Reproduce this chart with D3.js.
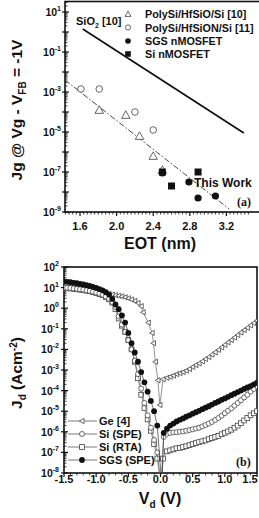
<!DOCTYPE html>
<html><head><meta charset="utf-8">
<script src="https://cdn.jsdelivr.net/npm/d3@7"></script>
<style>
body{margin:0;background:#fff}
svg{display:block}
text{font-family:"Liberation Sans",Arial,sans-serif;font-weight:bold;fill:#111}
</style>
</head><body>
<svg id="c" width="259" height="518"></svg>
<script>
// ---------- panel (a) data: EOT (nm) and log10(Jg) ----------
const eotHfSiO = [1.81, 2.10, 2.25, 2.40, 2.50];
const logHfSiO = [-3.9, -4.15, -5.2, -6.2, -6.9];
const eotHfSiON = [1.61, 1.81, 2.20, 2.40];
const logHfSiON = [-2.85, -2.85, -4.0, -4.9];
const eotSGS = [2.50, 2.79, 2.89, 3.08];
const logSGS = [-7.05, -7.5, -8.3, -8.2];
const eotSiN = [2.50, 2.60, 2.89];
const logSiN = [-7.0, -7.7, -7.0];
const eotSiO2 = [1.63, 3.39];
const logSiO2 = [0.15, -5.05];
const eotFit = [1.436, 3.23];
const logFit = [-2.4, -8.85];
const xTicksA = [1.6, 2.0, 2.4, 2.8, 3.2];
const yTicksA = [1, -1, -3, -5, -7, -9];

// ---------- panel (b) data: Vd (V) and log10(Jd) ----------
const vGe = [-1.5,-1.45,-1.4,-1.35,-1.3,-1.25,-1.2,-1.15,-1.1,-1.05,-1.0,-0.95,-0.9,-0.85,-0.8,-0.75,-0.7,-0.65,-0.6,-0.55,-0.5,-0.45,-0.4,-0.35,-0.3,-0.27,-0.19,-0.13,-0.11,-0.08,-0.04,-0.01,0.04,0.1,0.15,0.2,0.25,0.3,0.35,0.4,0.45,0.5,0.55,0.6,0.65,0.7,0.75,0.8,0.85,0.9,0.95,1.0,1.05,1.1,1.15,1.2,1.25,1.3,1.35,1.4,1.45,1.5];
const logGe = [1.0,0.98,0.96,0.94,0.92,0.9,0.88,0.86,0.84,0.82,0.8,0.77,0.75,0.72,0.69,0.66,0.63,0.6,0.57,0.53,0.48,0.42,0.35,0.25,0.1,-0.2,-0.7,-1.2,-1.7,-2.6,-3.5,-4.7,-3.45,-3.38,-3.33,-3.27,-3.2,-3.15,-3.1,-3.03,-2.95,-2.85,-2.76,-2.68,-2.58,-2.47,-2.37,-2.25,-2.14,-2.02,-1.9,-1.78,-1.66,-1.54,-1.42,-1.3,-1.18,-1.06,-0.95,-0.83,-0.72,-0.6];

const vSiSPE = [-1.5,-1.45,-1.4,-1.35,-1.3,-1.25,-1.2,-1.15,-1.1,-1.05,-1.0,-0.95,-0.9,-0.85,-0.8,-0.75,-0.7,-0.65,-0.6,-0.55,-0.5,-0.45,-0.4,-0.35,-0.3,-0.25,-0.2,-0.15,-0.1,-0.05,0.01,0.05,0.1,0.15,0.2,0.25,0.3,0.35,0.4,0.45,0.5,0.55,0.6,0.65,0.7,0.75,0.8,0.85,0.9,0.95,1.0,1.05,1.1,1.15,1.2,1.25,1.3,1.35,1.4,1.45,1.5];
const logSiSPE = [1.0,0.99,0.98,0.96,0.94,0.92,0.9,0.87,0.84,0.8,0.76,0.71,0.65,0.56,0.45,0.3,0.05,-0.4,-0.8,-1.15,-1.55,-2.0,-2.55,-3.2,-3.9,-4.6,-5.2,-5.8,-6.4,-7.0,-8.6,-6.25,-6.1,-6.05,-6.03,-6.02,-6.0,-5.98,-5.95,-5.92,-5.88,-5.84,-5.8,-5.74,-5.67,-5.6,-5.52,-5.43,-5.33,-5.22,-5.1,-4.98,-4.86,-4.73,-4.6,-4.47,-4.33,-4.2,-4.05,-3.92,-3.8];

const vSiRTA = [-1.5,-1.45,-1.4,-1.35,-1.3,-1.25,-1.2,-1.15,-1.1,-1.05,-1.0,-0.95,-0.9,-0.85,-0.8,-0.75,-0.7,-0.65,-0.6,-0.55,-0.5,-0.45,-0.4,-0.35,-0.3,-0.25,-0.2,-0.15,-0.1,-0.05,0.01,0.04,0.1,0.15,0.2,0.25,0.3,0.35,0.4,0.45,0.5,0.55,0.6,0.65,0.7,0.75,0.8,0.85,0.9,0.95,1.0,1.05,1.1,1.15,1.2,1.25,1.3,1.35,1.4,1.45,1.5];
const logSiRTA = [0.98,0.97,0.96,0.94,0.92,0.9,0.88,0.85,0.82,0.78,0.74,0.69,0.63,0.54,0.43,0.27,-0.05,-0.5,-0.85,-1.15,-1.55,-2.0,-2.6,-3.4,-4.2,-4.85,-5.4,-5.95,-6.6,-7.3,-8.6,-7.3,-6.95,-6.9,-6.85,-6.8,-6.78,-6.74,-6.7,-6.65,-6.6,-6.55,-6.5,-6.46,-6.42,-6.36,-6.3,-6.25,-6.2,-6.12,-6.05,-5.98,-5.9,-5.8,-5.7,-5.58,-5.45,-5.33,-5.2,-5.1,-5.0];

const vSGSb = [-1.5,-1.45,-1.4,-1.35,-1.3,-1.25,-1.2,-1.15,-1.1,-1.05,-1.0,-0.95,-0.9,-0.85,-0.8,-0.75,-0.7,-0.65,-0.6,-0.55,-0.5,-0.45,-0.4,-0.35,-0.3,-0.25,-0.2,-0.15,-0.1,-0.05,0.02,0.05,0.1,0.15,0.2,0.25,0.3,0.35,0.4,0.45,0.5,0.55,0.6,0.65,0.7,0.75,0.8,0.85,0.9,0.95,1.0,1.05,1.1,1.15,1.2,1.25,1.3,1.35,1.4,1.45,1.5];
const logSGSb = [1.3,1.28,1.26,1.23,1.21,1.18,1.15,1.12,1.08,1.04,0.99,0.93,0.87,0.78,0.66,0.45,0.18,-0.05,-0.35,-0.7,-1.2,-1.7,-2.15,-2.6,-3.1,-3.6,-4.05,-4.5,-5.0,-5.7,-8.6,-6.05,-5.85,-5.7,-5.6,-5.5,-5.42,-5.35,-5.27,-5.2,-5.12,-5.05,-4.98,-4.9,-4.83,-4.76,-4.68,-4.6,-4.53,-4.45,-4.38,-4.3,-4.22,-4.15,-4.07,-4.0,-3.92,-3.85,-3.78,-3.7,-3.62];

const xTicksB = [-1.5, -1.0, -0.5, 0.0, 0.5, 1.0, 1.5];
const yTicksB = [2, 1, 0, -1, -2, -3, -4, -5, -6, -7, -8];
const legendB = ["Ge [4]", "Si (SPE)", "Si (RTA)", "SGS (SPE)"];
const legendA = ["PolySi/HfSiO/Si [10]", "PolySi/HfSiON/Si [11]", "SGS nMOSFET", "Si nMOSFET"];

const svg = d3.select("#c");
const P = v => Math.pow(10, v);
const zip = (a, b) => a.map((d, i) => [d, b[i]]);

function triLeft(s){ return `M${-s},0L${s*0.8},${-s}L${s*0.8},${s}Z`; }
function triUp(s){ return `M0,${-s}L${s},${s*0.8}L${-s},${s*0.8}Z`; }

function expLabel(g, x, y, exp){
  const t = g.append("text").attr("x", x).attr("y", y).attr("text-anchor", "end").style("font-size", "10.5px");
  t.append("tspan").text("10");
  t.append("tspan").attr("dy", -5).style("font-size", "7px").text(exp);
}

// ================= PANEL (a) =================
const xA = d3.scaleLinear().domain([1.436, 3.534]).range([65, 257]);
const yA = d3.scaleLog().domain([1e-9, P(1.525)]).range([212, 1.5]);
const gA = svg.append("g");
svg.append("clipPath").attr("id", "clipA").append("rect")
  .attr("x", 65).attr("y", 1.5).attr("width", 195).attr("height", 210.5);

for (let e = -9; e <= 1; e++) {
  for (let m = 1; m <= 9; m++) {
    const v = m * P(e);
    if (v > P(1.525)) continue;
    const y = yA(v);
    const major = m === 1;
    gA.append("line").attr("x1", 65 - (major ? 3 : 0)).attr("x2", 65 + (major ? 4 : 2.5))
      .attr("y1", y).attr("y2", y).attr("stroke", "#111").attr("stroke-width", major ? 1.2 : 0.8);
  }
}
for (let i = 0; i <= 50; i++) {
  const v = 1.44 + i * 0.04;
  if (v > 3.53) break;
  const x = xA(v);
  const major = Math.abs(((v - 1.6) / 0.4) - Math.round((v - 1.6) / 0.4)) < 1e-6;
  gA.append("line").attr("x1", x).attr("x2", x).attr("y1", 212).attr("y2", 212 + (major ? 4 : 2.5))
    .attr("stroke", "#111").attr("stroke-width", major ? 1.2 : 0.8);
}
gA.append("rect").attr("x", 65).attr("y", 1.5).attr("width", 197).attr("height", 210.5)
  .attr("fill", "none").attr("stroke", "#111").attr("stroke-width", 1.6);

xTicksA.forEach(v => gA.append("text").attr("x", xA(v)).attr("y", 230).attr("text-anchor", "middle")
  .style("font-size", "11px").text(v.toFixed(1)));
yTicksA.forEach(e => expLabel(gA, 61, yA(P(e)) + 4, String(e)));

const plotA = gA.append("g").attr("clip-path", "url(#clipA)");
const lineA = d3.line().x(d => xA(d[0])).y(d => yA(P(d[1])));
plotA.append("path").attr("d", lineA(zip(eotSiO2, logSiO2))).attr("fill", "none").attr("stroke", "#111").attr("stroke-width", 1.7);
plotA.append("path").attr("d", lineA(zip(eotFit, logFit))).attr("fill", "none").attr("stroke", "#333")
  .attr("stroke-width", 0.9).attr("stroke-dasharray", "6,2,1.5,2");

zip(eotHfSiON, logHfSiON).forEach(d => plotA.append("circle").attr("cx", xA(d[0])).attr("cy", yA(P(d[1])))
  .attr("r", 3.3).attr("fill", "#fff").attr("stroke", "#555").attr("stroke-width", 0.9));
zip(eotHfSiO, logHfSiO).forEach(d => plotA.append("path").attr("transform", `translate(${xA(d[0])},${yA(P(d[1]))})`)
  .attr("d", triUp(4.2)).attr("fill", "#fff").attr("stroke", "#555").attr("stroke-width", 0.9));
zip(eotSiN, logSiN).forEach(d => plotA.append("rect").attr("x", xA(d[0]) - 3.5).attr("y", yA(P(d[1])) - 3.5)
  .attr("width", 7).attr("height", 7).attr("fill", "#111"));
zip(eotSGS, logSGS).forEach(d => plotA.append("circle").attr("cx", xA(d[0])).attr("cy", yA(P(d[1])))
  .attr("r", 3.6).attr("fill", "#111"));

const symA = [
  g => g.append("path").attr("d", triUp(3)).attr("fill", "#fff").attr("stroke", "#555").attr("stroke-width", 0.9),
  g => g.append("circle").attr("r", 2.6).attr("fill", "#fff").attr("stroke", "#555").attr("stroke-width", 0.9),
  g => g.append("circle").attr("r", 2.8).attr("fill", "#111"),
  g => g.append("rect").attr("x", -2.8).attr("y", -2.8).attr("width", 5.6).attr("height", 5.6).attr("fill", "#111")
];
const legYA = [14, 27.5, 41, 54];
legendA.forEach((t, i) => {
  const g = gA.append("g").attr("transform", `translate(128,${legYA[i]})`);
  symA[i](g);
  gA.append("text").attr("x", 145).attr("y", legYA[i] + 4).style("font-size", "10.8px").text(t);
});
const sio = gA.append("text").attr("x", 76).attr("y", 25).style("font-size", "11px");
sio.append("tspan").text("SiO");
sio.append("tspan").attr("dy", 3).style("font-size", "7px").text("2");
sio.append("tspan").attr("dy", -3).text(" [10]");
gA.append("text").attr("x", 194).attr("y", 187).style("font-size", "12px").text("This Work");
gA.append("text").attr("x", 237).attr("y", 206).style("font-family", "'Liberation Serif',serif").style("font-size", "12px").text("(a)");

gA.append("text").attr("x", 160).attr("y", 249).attr("text-anchor", "middle").style("font-size", "16px").text("EOT (nm)");
const ylA = gA.append("text").attr("transform", "translate(22,110) rotate(-90)").attr("text-anchor", "middle").style("font-size", "15.5px");
ylA.append("tspan").text("Jg @ Vg - V");
ylA.append("tspan").attr("dy", 4).style("font-size", "10px").text("FB");
ylA.append("tspan").attr("dy", -4).text(" = -1V");

// ================= PANEL (b) =================
const xB = d3.scaleLinear().domain([-1.5, 1.5]).range([64, 257]);
const yB = d3.scaleLog().domain([1e-8, 1e2]).range([473, 267]);
const gB = svg.append("g");
svg.append("clipPath").attr("id", "clipB").append("rect").attr("x", 64).attr("y", 267).attr("width", 193).attr("height", 206);

for (let e = -8; e <= 2; e++) {
  for (let m = 1; m <= 9; m++) {
    const v = m * P(e);
    if (v > 1e2 + 1) continue;
    const y = yB(v);
    const major = m === 1;
    gB.append("line").attr("x1", 64 - (major ? 3 : 0)).attr("x2", 64 + (major ? 4 : 2.5))
      .attr("y1", y).attr("y2", y).attr("stroke", "#111").attr("stroke-width", major ? 1.2 : 0.8);
  }
}
for (let i = 0; i <= 30; i++) {
  const v = -1.5 + i * 0.1;
  const x = xB(v);
  const major = i % 5 === 0;
  gB.append("line").attr("x1", x).attr("x2", x).attr("y1", 473).attr("y2", 473 + (major ? 4 : 2.5))
    .attr("stroke", "#111").attr("stroke-width", major ? 1.2 : 0.8);
}
gB.append("rect").attr("x", 64).attr("y", 267).attr("width", 193).attr("height", 206)
  .attr("fill", "none").attr("stroke", "#111").attr("stroke-width", 1.6);

xTicksB.forEach(v => gB.append("text").attr("x", Math.min(xB(v), 250)).attr("y", 483).attr("text-anchor", "middle")
  .style("font-size", "11px").text(v.toFixed(1)));
yTicksB.forEach(e => expLabel(gB, 59, yB(P(e)) + 4, String(e)));

const plotB = gB.append("g").attr("clip-path", "url(#clipB)");
const lineB = d3.line().x(d => xB(d[0])).y(d => yB(P(d[1])));
function series(vs, ls, color, drawMarker) {
  const data = zip(vs, ls);
  plotB.append("path").attr("d", lineB(data)).attr("fill", "none").attr("stroke", color).attr("stroke-width", 0.7);
  data.forEach(d => {
    if (d[1] < -8.2) return;
    const g = plotB.append("g").attr("transform", `translate(${xB(d[0])},${yB(P(d[1]))})`);
    drawMarker(g);
  });
}
const mGe = g => g.append("path").attr("d", triLeft(2.6)).attr("fill", "#fff").attr("stroke", "#444").attr("stroke-width", 0.8);
const mSPE = g => g.append("circle").attr("r", 2.5).attr("fill", "#fff").attr("stroke", "#444").attr("stroke-width", 0.8);
const mRTA = g => g.append("rect").attr("x", -2.4).attr("y", -2.4).attr("width", 4.8).attr("height", 4.8).attr("fill", "#fff").attr("stroke", "#444").attr("stroke-width", 0.8);
const mSGS = g => g.append("circle").attr("r", 2.9).attr("fill", "#111");

series(vGe, logGe, "#666", mGe);
series(vSiRTA, logSiRTA, "#666", mRTA);
series(vSiSPE, logSiSPE, "#666", mSPE);
series(vSGSb, logSGSb, "#333", mSGS);

const legYB = [421, 434, 447, 460];
const legM = [mGe, mSPE, mRTA, mSGS];
legendB.forEach((t, i) => {
  gB.append("line").attr("x1", 68).attr("x2", 97).attr("y1", legYB[i]).attr("y2", legYB[i]).attr("stroke", "#555").attr("stroke-width", 0.8);
  legM[i](gB.append("g").attr("transform", `translate(82,${legYB[i]})`));
  gB.append("text").attr("x", 99).attr("y", legYB[i] + 4).style("font-size", "11px").text(t);
});
gB.append("text").attr("x", 236).attr("y", 466).style("font-family", "'Liberation Serif',serif").style("font-size", "12px").text("(b)");

const xlB = gB.append("text").attr("x", 160).attr("y", 504).attr("text-anchor", "middle").style("font-size", "16px");
xlB.append("tspan").text("V");
xlB.append("tspan").attr("dy", 4).style("font-size", "10px").text("d");
xlB.append("tspan").attr("dy", -4).text(" (V)");
const ylB = gB.append("text").attr("transform", "translate(22,373) rotate(-90)").attr("text-anchor", "middle").style("font-size", "15.5px");
ylB.append("tspan").text("J");
ylB.append("tspan").attr("dy", 4).style("font-size", "10px").text("d");
ylB.append("tspan").attr("dy", -4).text(" (Acm");
ylB.append("tspan").attr("dy", -5).style("font-size", "10px").text("-2");
ylB.append("tspan").attr("dy", 5).text(")");
</script>
</body></html>
